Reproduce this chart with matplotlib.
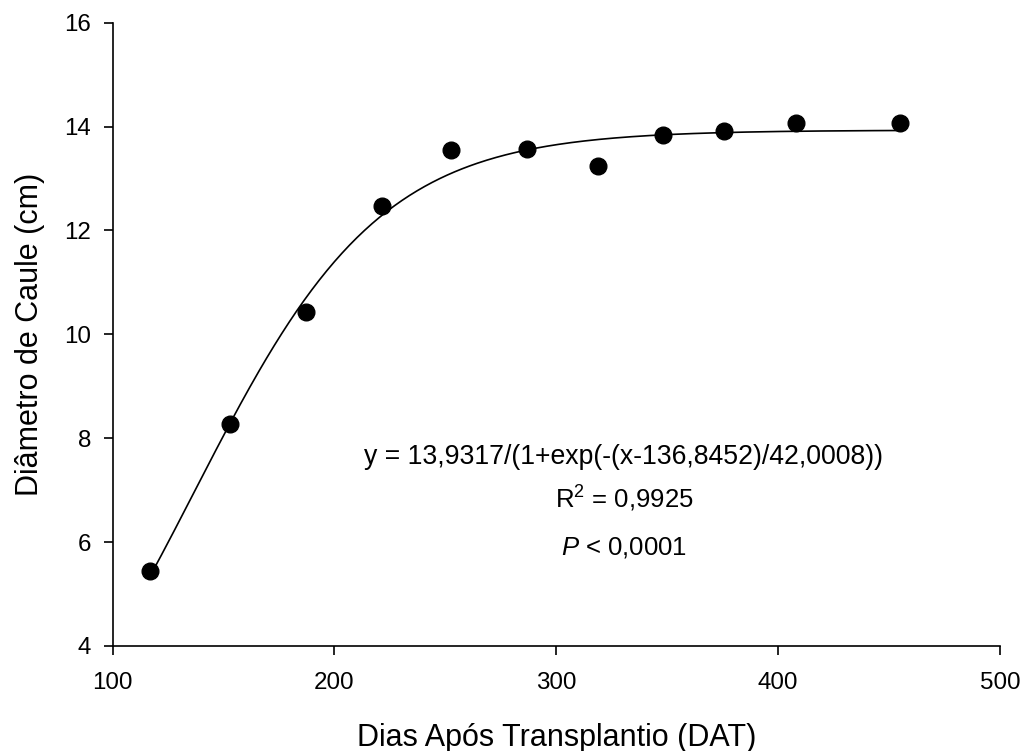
import numpy as np
import matplotlib
matplotlib.use("Agg")
import matplotlib.pyplot as plt

plt.rcParams['font.family'] = ['Liberation Sans', 'DejaVu Sans']
plt.rcParams['mathtext.fontset'] = 'custom'
plt.rcParams['mathtext.rm'] = 'Liberation Sans'
plt.rcParams['mathtext.it'] = 'Liberation Sans:italic'

# Data
dias = [117, 153, 187, 221.5, 252.5, 287, 319, 348, 375.5, 408, 455]
diametro = [5.44, 8.28, 10.43, 12.47, 13.55, 13.56, 13.25, 13.83, 13.91, 14.06, 14.06]

# Fitted logistic parameters (from the equation shown)
a_par = 13.9317
x0_par = 136.8452
b_par = 42.0008

xticks = [100, 200, 300, 400, 500]
yticks = [4, 6, 8, 10, 12, 14, 16]

fig = plt.figure(figsize=(10.27, 7.51), dpi=100)
L, R, B, T = 112.5, 1000, 646, 22.7
ax = fig.add_axes([L / 1027, 1 - B / 751, (R - L) / 1027, (B - T) / 751])

xs = np.linspace(min(dias), max(dias), 400)
ys = a_par / (1 + np.exp(-(xs - x0_par) / b_par))
ax.plot(xs, ys, color='black', lw=1.2)
ax.plot(dias, diametro, 'o', color='black', markersize=12, linestyle='none')

ax.set_xlim(100, 500)
ax.set_ylim(4, 16)
ax.set_xticks(xticks)
ax.set_yticks(yticks)
ax.tick_params(direction='out', length=6.5, width=1.2, labelsize=17.4, pad=9)
ax.tick_params(axis='x', pad=12)
for s in ['top', 'right']:
    ax.spines[s].set_visible(False)
for s in ['left', 'bottom']:
    ax.spines[s].set_linewidth(1.2)

ax.set_xlabel('Dias Após Transplantio (DAT)', fontsize=22, labelpad=21)
ax.set_ylabel('Diâmetro de Caule (cm)', fontsize=22, labelpad=14)

cx = (624 - L) / (R - L)
def ay(py):
    return (B - py) / (B - T)

ax.text(cx, ay(457), 'y = 13,9317/(1+exp(-(x-136,8452)/42,0008))', transform=ax.transAxes,
        ha='center', va='center', fontsize=19.2)
ax.text(cx, ay(499), r'R$^2$ = 0,9925', transform=ax.transAxes,
        ha='center', va='center', fontsize=18.5)
ax.text(cx, ay(547), r'$P$ < 0,0001', transform=ax.transAxes,
        ha='center', va='center', fontsize=18.5)

fig.savefig('out.png', dpi=100)
